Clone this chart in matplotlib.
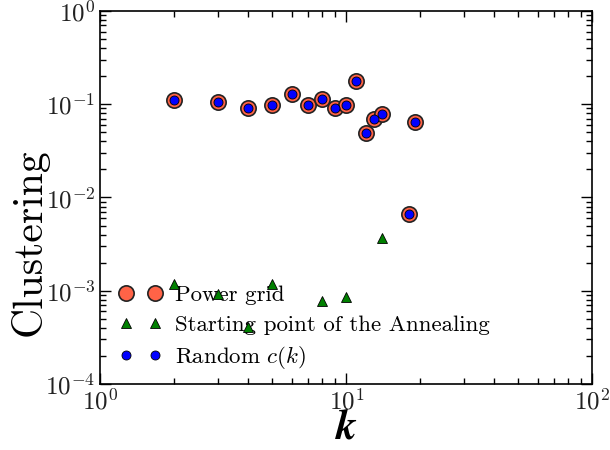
import matplotlib
matplotlib.use('Agg')
import matplotlib.pyplot as plt

plt.rcParams['font.family'] = 'cmr10'
plt.rcParams['mathtext.fontset'] = 'cm'
plt.rcParams['axes.formatter.use_mathtext'] = True
plt.rcParams['axes.unicode_minus'] = False

# clustering per degree, power grid network
k_grid = [2, 3, 4, 5, 6, 7, 8, 9, 10, 11, 12, 13, 14, 18, 19]
c_grid = [0.111, 0.106, 0.091, 0.099, 0.128, 0.099, 0.114, 0.091, 0.099,
          0.179, 0.049, 0.069, 0.078, 0.0066, 0.064]

# random c(k) reproduces the same values
k_rand = k_grid
c_rand = c_grid

# starting point of the annealing
k_start = [2, 3, 4, 5, 8, 10, 14]
c_start = [0.00118, 0.00092, 0.000405, 0.00118, 0.00077, 0.00085, 0.0037]

fig = plt.figure(figsize=(6.1, 4.5), dpi=100)
ax = fig.add_axes([0.1644, 0.1467, 0.8066, 0.8289])

ax.plot(k_grid, c_grid, 'o', color='#ff6347', mec='#222222', mew=1.2, ms=11,
        label='Power grid', zorder=10)
ax.plot(k_start, c_start, '^', color='green', mec='black', mew=0.6, ms=7,
        label='Starting point of the Annealing', zorder=10)
ax.plot(k_rand, c_rand, 'o', color='blue', mec='black', mew=0.6, ms=6.5,
        label=r'Random $\mathit{c(k)}$', zorder=11)

ax.set_xscale('log')
ax.set_yscale('log')
ax.set_xlim(1, 100)
ax.set_ylim(1e-4, 1)

ax.tick_params(which='both', direction='in', top=True, right=True,
               labelsize=18, labelcolor='#222222')
ax.tick_params(which='major', length=8, width=1)
ax.tick_params(which='minor', length=4, width=1)
for sp in ax.spines.values():
    sp.set_linewidth(1.2)

ax.set_xlabel(r'$\boldsymbol{k}$', fontsize=30, labelpad=-4)
ax.set_ylabel('Clustering', fontsize=30)
ax.yaxis.set_label_coords(-0.105, 0.381)

leg = ax.legend(loc='lower left', bbox_to_anchor=(0.013, 0.0), numpoints=2,
                frameon=False, fontsize=16.5, handlelength=1.85,
                handletextpad=0.6, labelspacing=0.42,
                borderaxespad=0.3, borderpad=0.25)
leg.set_zorder(1)

fig.savefig('out.png', dpi=100)
